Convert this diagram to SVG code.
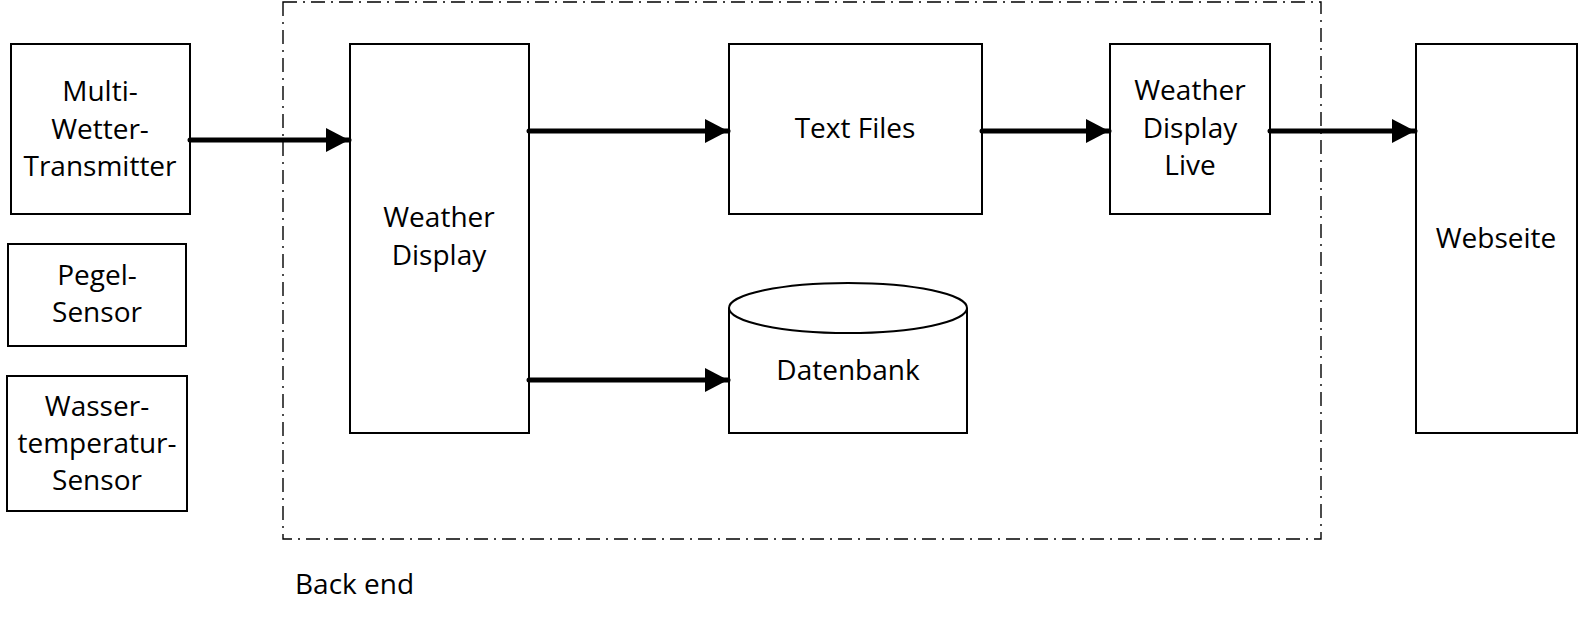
<svg xmlns="http://www.w3.org/2000/svg" width="1580" height="619" viewBox="0 0 1580 619">
<style>
.box{fill:#fff;stroke:#000;stroke-width:2}
.t{font-family:"Open Sans","Liberation Sans",sans-serif;font-size:28px;fill:#000;text-anchor:middle}
.c{stroke:#000;stroke-width:5;fill:none;stroke-linecap:round}
</style>
<defs>
<marker id="ah" markerUnits="userSpaceOnUse" markerWidth="24" markerHeight="24" refX="23" refY="12" orient="auto">
<path d="M0,0 L23,12 L0,24 Z" fill="#000"/>
</marker>
</defs>
<g id="backend">
<rect x="283" y="2" width="1038" height="537" fill="none" stroke="#000" stroke-width="1.4" stroke-dasharray="14 6 2 6"/>
<text x="295" y="594" class="t" style="text-anchor:start">Back end</text>
</g>
<g id="multi">
<rect class="box" x="11" y="44" width="179" height="170"/>
<text class="t" x="100" y="101">Multi-</text>
<text class="t" x="100" y="139">Wetter-</text>
<text class="t" x="100" y="176">Transmitter</text>
</g>
<g id="pegel">
<rect class="box" x="8" y="244" width="178" height="102"/>
<text class="t" x="97" y="285">Pegel-</text>
<text class="t" x="97" y="322">Sensor</text>
</g>
<g id="wasser">
<rect class="box" x="7" y="376" width="180" height="135"/>
<text class="t" x="97" y="416">Wasser-</text>
<text class="t" x="97" y="453">temperatur-</text>
<text class="t" x="97" y="490">Sensor</text>
</g>
<g id="weatherdisplay">
<rect class="box" x="350" y="44" width="179" height="389"/>
<text class="t" x="439" y="227">Weather</text>
<text class="t" x="439" y="265">Display</text>
</g>
<g id="textfiles">
<rect class="box" x="729" y="44" width="253" height="170"/>
<text class="t" x="855" y="138">Text Files</text>
</g>
<g id="wdl">
<rect class="box" x="1110" y="44" width="160" height="170"/>
<text class="t" x="1190" y="100">Weather</text>
<text class="t" x="1190" y="138">Display</text>
<text class="t" x="1190" y="175">Live</text>
</g>
<g id="webseite">
<rect class="box" x="1416" y="44" width="161" height="389"/>
<text class="t" x="1496" y="248">Webseite</text>
</g>
<g id="datenbank">
<path class="box" d="M729,308 L729,433 L967,433 L967,308"/>
<ellipse class="box" cx="848" cy="308" rx="119" ry="25"/>
<text class="t" x="848" y="380">Datenbank</text>
</g>
<g id="connectors">
<line class="c" x1="190" y1="140" x2="349" y2="140" marker-end="url(#ah)"/>
<line class="c" x1="529" y1="131" x2="728" y2="131" marker-end="url(#ah)"/>
<line class="c" x1="982" y1="131" x2="1109" y2="131" marker-end="url(#ah)"/>
<line class="c" x1="1270" y1="131" x2="1415" y2="131" marker-end="url(#ah)"/>
<line class="c" x1="529" y1="380" x2="728" y2="380" marker-end="url(#ah)"/>
</g>
</svg>
